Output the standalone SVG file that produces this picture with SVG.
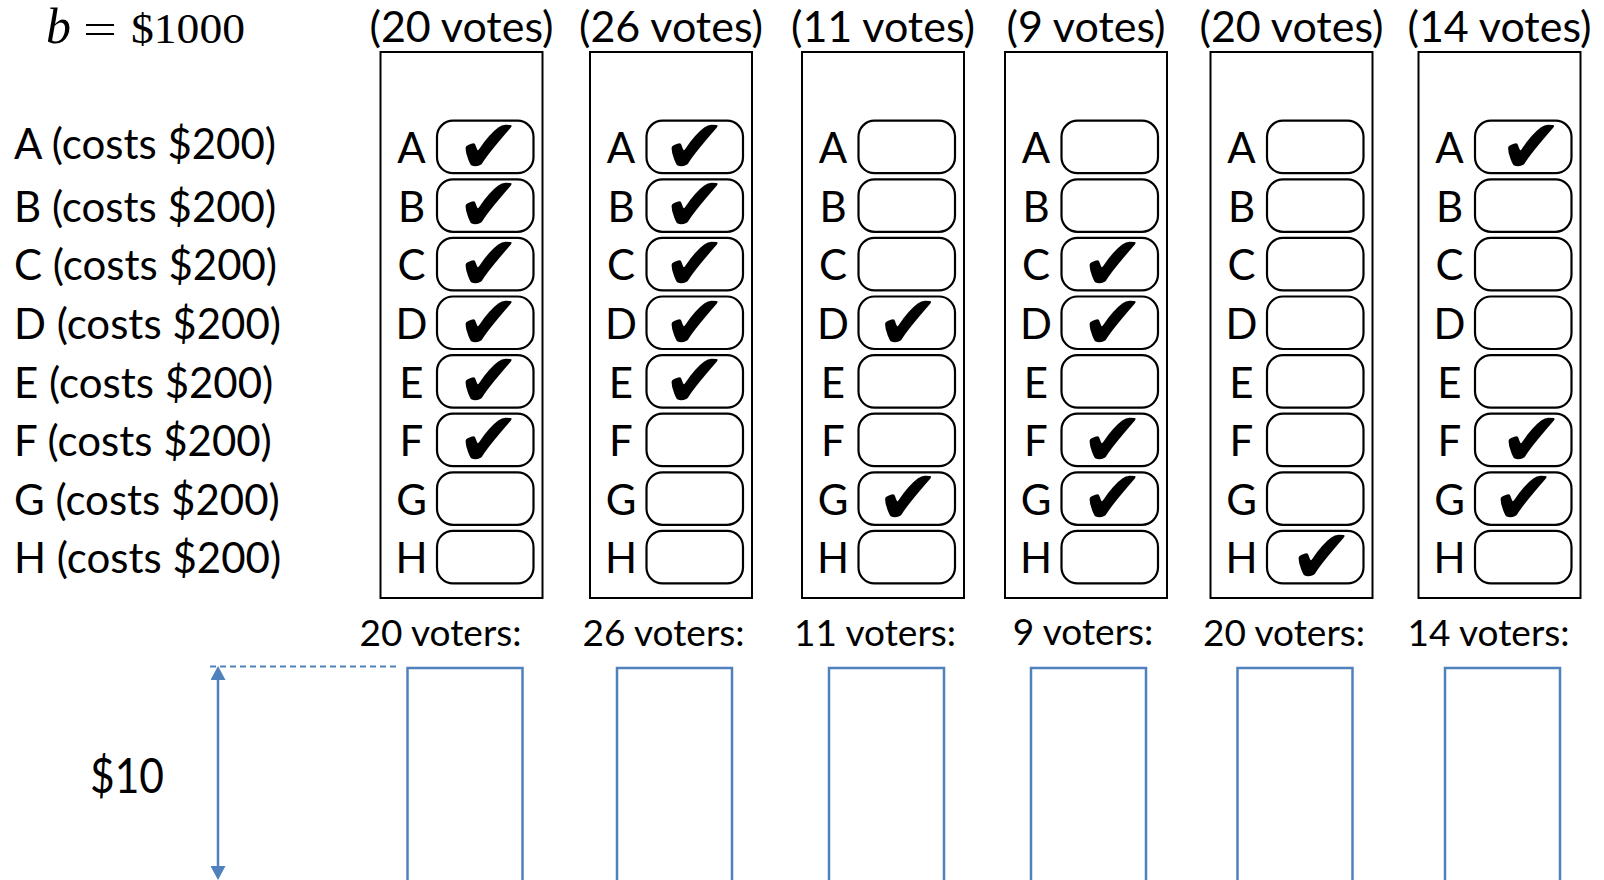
<svg xmlns="http://www.w3.org/2000/svg" xmlns:xlink="http://www.w3.org/1999/xlink" width="1604" height="880" viewBox="0 0 1604 880">
<style>
  .lbl { font-family: Lato, "Noto Sans", sans-serif; font-size: 42px; fill: #000; }
  .votes { font-family: Lato, "Noto Sans", sans-serif; font-size: 43px; fill: #000; text-anchor: middle; }
  .voters { font-family: Lato, "Noto Sans", sans-serif; font-size: 37px; fill: #000; text-anchor: middle; }
  .let { font-family: Lato, "Noto Sans", sans-serif; font-size: 42px; fill: #000; text-anchor: middle; }
  .frame { fill: none; stroke: #000; stroke-width: 2; }
  .cb { fill: none; stroke: #000; stroke-width: 2.2; }
  .chk { font-family: "DejaVu Sans", sans-serif; font-size: 76px; fill: #000; text-anchor: middle; }
  .bar { fill: none; stroke: #4F81BD; stroke-width: 2.5; }
  .math { font-family: "Liberation Serif", serif; font-size: 43px; fill: #000; }
</style>
<defs>
  <marker id="ah" viewBox="0 0 14 15" refX="10" refY="7.5" markerWidth="14" markerHeight="15" markerUnits="userSpaceOnUse" orient="auto-start-reverse">
    <path d="M0,0 L14,7.5 L0,15 z" fill="#4F81BD"/>
  </marker>
  <g id="rows">
    <rect class="frame" x="0" y="52" width="162" height="546"/>
    <text class="let" x="31" y="163.2">A</text>
    <text class="let" x="31" y="221.8">B</text>
    <text class="let" x="31" y="280.4">C</text>
    <text class="let" x="31" y="339">D</text>
    <text class="let" x="31" y="397.6">E</text>
    <text class="let" x="31" y="456.2">F</text>
    <text class="let" x="31" y="514.8">G</text>
    <text class="let" x="31" y="573.4">H</text>
    <rect class="cb" x="56.5" y="120.7" width="96.5" height="52.5" rx="16"/>
    <rect class="cb" x="56.5" y="179.3" width="96.5" height="52.5" rx="16"/>
    <rect class="cb" x="56.5" y="237.9" width="96.5" height="52.5" rx="16"/>
    <rect class="cb" x="56.5" y="296.5" width="96.5" height="52.5" rx="16"/>
    <rect class="cb" x="56.5" y="355.1" width="96.5" height="52.5" rx="16"/>
    <rect class="cb" x="56.5" y="413.7" width="96.5" height="52.5" rx="16"/>
    <rect class="cb" x="56.5" y="472.3" width="96.5" height="52.5" rx="16"/>
    <rect class="cb" x="56.5" y="530.9" width="96.5" height="52.5" rx="16"/>
  </g>
</defs>

<g id="budget">
  <text class="math" x="46" y="43" font-style="italic" style="font-size:50px">b</text>
  <text class="math" x="83" y="43" textLength="34" lengthAdjust="spacingAndGlyphs">=</text>
  <text class="math" x="131" y="43" textLength="114" lengthAdjust="spacingAndGlyphs">$1000</text>
</g>

<g id="projects">
  <text class="lbl" x="14" y="159">A (costs $200)</text>
  <text class="lbl" x="14" y="221.8">B (costs $200)</text>
  <text class="lbl" x="14" y="280.4">C (costs $200)</text>
  <text class="lbl" x="14" y="339">D (costs $200)</text>
  <text class="lbl" x="14" y="397.6">E (costs $200)</text>
  <text class="lbl" x="14" y="456.2">F (costs $200)</text>
  <text class="lbl" x="14" y="514.8">G (costs $200)</text>
  <text class="lbl" x="14" y="573.4">H (costs $200)</text>
</g>

<g id="ballot-1" transform="translate(380.5,0)">
  <text class="votes" x="81" y="42">(20 votes)</text>
  <use href="#rows"/>
  <text class="chk"><tspan x="108" y="172.7">✔</tspan><tspan x="108" y="231.3">✔</tspan><tspan x="108" y="289.9">✔</tspan><tspan x="108" y="348.5">✔</tspan><tspan x="108" y="407.1">✔</tspan><tspan x="108" y="465.7">✔</tspan></text>
</g>

<g id="ballot-2" transform="translate(590,0)">
  <text class="votes" x="81" y="42">(26 votes)</text>
  <use href="#rows"/>
  <text class="chk"><tspan x="104.5" y="172.7">✔</tspan><tspan x="104.5" y="231.3">✔</tspan><tspan x="104.5" y="289.9">✔</tspan><tspan x="104.5" y="348.5">✔</tspan><tspan x="104.5" y="407.1">✔</tspan></text>
</g>

<g id="ballot-3" transform="translate(802,0)">
  <text class="votes" x="81" y="42">(11 votes)</text>
  <use href="#rows"/>
  <text class="chk"><tspan x="106" y="348.5">✔</tspan><tspan x="106" y="524.3">✔</tspan></text>
</g>

<g id="ballot-4" transform="translate(1005,0)">
  <text class="votes" x="81" y="42">(9 votes)</text>
  <use href="#rows"/>
  <text class="chk"><tspan x="107.5" y="289.9">✔</tspan><tspan x="107.5" y="348.5">✔</tspan><tspan x="107.5" y="465.7">✔</tspan><tspan x="107.5" y="524.3">✔</tspan></text>
</g>

<g id="ballot-5" transform="translate(1210.5,0)">
  <text class="votes" x="81" y="42">(20 votes)</text>
  <use href="#rows"/>
  <text class="chk"><tspan x="111" y="582.9">✔</tspan></text>
</g>

<g id="ballot-6" transform="translate(1418.5,0)">
  <text class="votes" x="81" y="42">(14 votes)</text>
  <use href="#rows"/>
  <text class="chk"><tspan x="112.5" y="172.7">✔</tspan><tspan x="113" y="465.7">✔</tspan><tspan x="105" y="524.3">✔</tspan></text>
</g>

<g id="voters">
  <text class="voters" x="440.5" y="646">20 voters:</text>
  <text class="voters" x="663.5" y="646">26 voters:</text>
  <text class="voters" x="875" y="646">11 voters:</text>
  <text class="voters" x="1083" y="645">9 voters:</text>
  <text class="voters" x="1284" y="646">20 voters:</text>
  <text class="voters" x="1488.5" y="646">14 voters:</text>
</g>

<g id="bars">
  <rect class="bar" x="407.5" y="668" width="115" height="230"/>
  <rect class="bar" x="617" y="668" width="115" height="230"/>
  <rect class="bar" x="829" y="668" width="115" height="230"/>
  <rect class="bar" x="1031" y="668" width="115" height="230"/>
  <rect class="bar" x="1237.5" y="668" width="115" height="230"/>
  <rect class="bar" x="1445" y="668" width="115" height="230"/>
</g>

<g id="connectors">
  <line x1="210" y1="666.5" x2="398" y2="666.5" stroke="#4F81BD" stroke-width="2" stroke-dasharray="6,4"/>
  <line x1="218" y1="670" x2="218" y2="876" stroke="#4F81BD" stroke-width="2.5" marker-start="url(#ah)" marker-end="url(#ah)"/>
</g>

<g id="scale-label">
  <text class="lbl" x="90" y="793" style="font-size:48px" textLength="74" lengthAdjust="spacingAndGlyphs">$10</text>
</g>
</svg>
